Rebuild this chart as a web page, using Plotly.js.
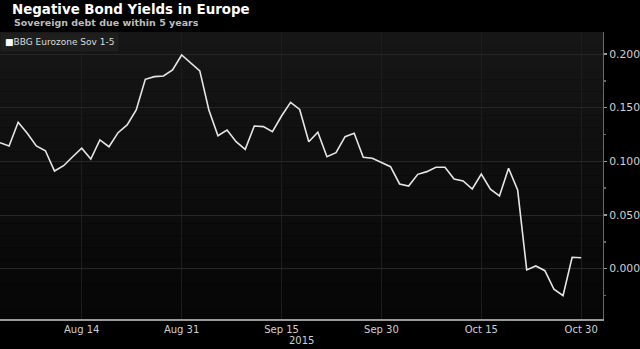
<!DOCTYPE html>
<html>
<head>
<meta charset="utf-8">
<script src="https://cdn.plot.ly/plotly-3.0.1.min.js"></script>
<style>
html,body{margin:0;padding:0;background:#000;}
#chart{width:640px;height:349px;}
</style>
</head>
<body>
<div id="chart"></div>
<script>
var dates = [
  "2015-08-03","2015-08-04","2015-08-05","2015-08-06","2015-08-07",
  "2015-08-10","2015-08-11","2015-08-12","2015-08-13","2015-08-14",
  "2015-08-17","2015-08-18","2015-08-19","2015-08-20","2015-08-21",
  "2015-08-24","2015-08-25","2015-08-26","2015-08-27","2015-08-28",
  "2015-08-31","2015-09-01","2015-09-02","2015-09-03","2015-09-04",
  "2015-09-07","2015-09-08","2015-09-09","2015-09-10","2015-09-11",
  "2015-09-14","2015-09-15","2015-09-16","2015-09-17","2015-09-18",
  "2015-09-21","2015-09-22","2015-09-23","2015-09-24","2015-09-25",
  "2015-09-28","2015-09-29","2015-09-30","2015-10-01","2015-10-02",
  "2015-10-05","2015-10-06","2015-10-07","2015-10-08","2015-10-09",
  "2015-10-12","2015-10-13","2015-10-14","2015-10-15","2015-10-16",
  "2015-10-19","2015-10-20","2015-10-21","2015-10-22","2015-10-23",
  "2015-10-26","2015-10-27","2015-10-28","2015-10-29","2015-10-30"
];
var yields = [
  0.1174,0.1143,0.1364,0.1261,0.1143,
  0.1099,0.0910,0.0959,0.1043,0.1122,
  0.1022,0.1199,0.1136,0.1267,0.1339,
  0.1478,0.1764,0.1789,0.1795,0.1851,
  0.1991,0.1913,0.1843,0.1478,0.1239,
  0.1292,0.1183,0.1112,0.1329,0.1323,
  0.1276,0.1422,0.1550,0.1483,0.1183,
  0.1271,0.1043,0.1081,0.1230,0.1261,
  0.1038,0.1028,0.0987,0.0950,0.0789,
  0.0770,0.0879,0.0904,0.0945,0.0945,
  0.0836,0.0817,0.0742,0.0882,0.0740,
  0.0677,0.0935,0.0733,-0.0012,0.0025,
  -0.0019,-0.0192,-0.0252,0.0106,0.0102
];
var tickDates = ["2015-08-14","2015-08-31","2015-09-15","2015-09-30","2015-10-15","2015-10-30"];
var tickLabels = ["Aug 14","Aug 31","Sep 15","Sep 30","Oct 15","Oct 30"];
var seriesName = "BBG Eurozone Sov 1-5";

// background gradient bands (style only)
var shapes = [];
var nb = 24;
for (var i = 0; i < nb; i++) {
  var t = i / (nb - 1);
  var c = Math.round(22 - 16 * t);
  shapes.push({
    type: "rect", xref: "paper", yref: "paper", layer: "below",
    x0: 0, x1: 1, y1: 1 - i / nb, y0: 1 - (i + 1) / nb,
    line: {width: 0}, fillcolor: "rgb(" + c + "," + c + "," + c + ")"
  });
}

var trace = {
  x: dates, y: yields, type: "scatter", mode: "lines",
  line: {color: "#e6e6e6", width: 1.6},
  showlegend: false, hoverinfo: "x+y"
};

var layout = {
  width: 640, height: 349,
  paper_bgcolor: "#000", plot_bgcolor: "rgba(0,0,0,0)",
  margin: {l: 0, r: 37, t: 32, b: 30},
  font: {family: "DejaVu Sans", color: "#d0d0d0"},
  title: {
    text: "<b>Negative Bond Yields in Europe</b>",
    font: {family: "DejaVu Sans", size: 13.4, color: "#ffffff"},
    xref: "container", x: 12 / 640, xanchor: "left",
    yref: "container", y: 1 - 9.5 / 349, yanchor: "middle"
  },
  shapes: shapes,
  xaxis: {
    type: "date",
    range: ["2015-08-03", "2015-11-03 09:36"],
    rangebreaks: [{bounds: ["sat", "mon"]}],
    tickvals: tickDates, ticktext: tickLabels,
    tickfont: {size: 10, color: "#d0d0d0"},
    ticks: "", showgrid: true, gridcolor: "#1d1d1d", gridwidth: 1,
    showline: true, linecolor: "#9a9a9a", linewidth: 1.5,
    zeroline: false, fixedrange: true
  },
  yaxis: {
    side: "right",
    range: [-0.0469, 0.2205],
    tick0: 0, dtick: 0.05, tickformat: ".3f",
    tickfont: {size: 10.8, color: "#d0d0d0"},
    ticks: "outside", ticklen: 3, tickcolor: "#9a9a9a", tickwidth: 1.5,
    minor: {dtick: 0.025, tick0: 0, ticks: "outside", ticklen: 2, tickcolor: "#666", showgrid: false},
    showgrid: true, gridcolor: "#262626", gridwidth: 1,
    showline: true, linecolor: "#6a6a6a", linewidth: 1,
    zeroline: false, fixedrange: true
  },
  annotations: [
    {
      text: "<b>Sovereign debt due within 5 years</b>",
      xref: "paper", yref: "paper", x: 12 / 603, y: (319 - 22) / 287,
      xanchor: "left", yanchor: "middle", showarrow: false,
      font: {family: "DejaVu Sans", size: 9.5, color: "#bdbdbd"}
    },
    {
      text: "<span style='color:#ffffff'>■</span>" + seriesName,
      xref: "paper", yref: "paper", x: 0, y: (319 - 42) / 287,
      xanchor: "left", yanchor: "middle", showarrow: false,
      bgcolor: "#1e1e1e", borderpad: 4,
      font: {family: "DejaVu Sans", size: 9, color: "#dcdcdc"}
    },
    {
      text: "2015",
      xref: "paper", yref: "paper", x: 301 / 603, y: (319 - 340) / 287,
      xanchor: "center", yanchor: "middle", showarrow: false,
      font: {family: "DejaVu Sans", size: 10, color: "#d0d0d0"}
    }
  ]
};

Plotly.newPlot("chart", [trace], layout, {displayModeBar: false, staticPlot: true});
</script>
</body>
</html>
